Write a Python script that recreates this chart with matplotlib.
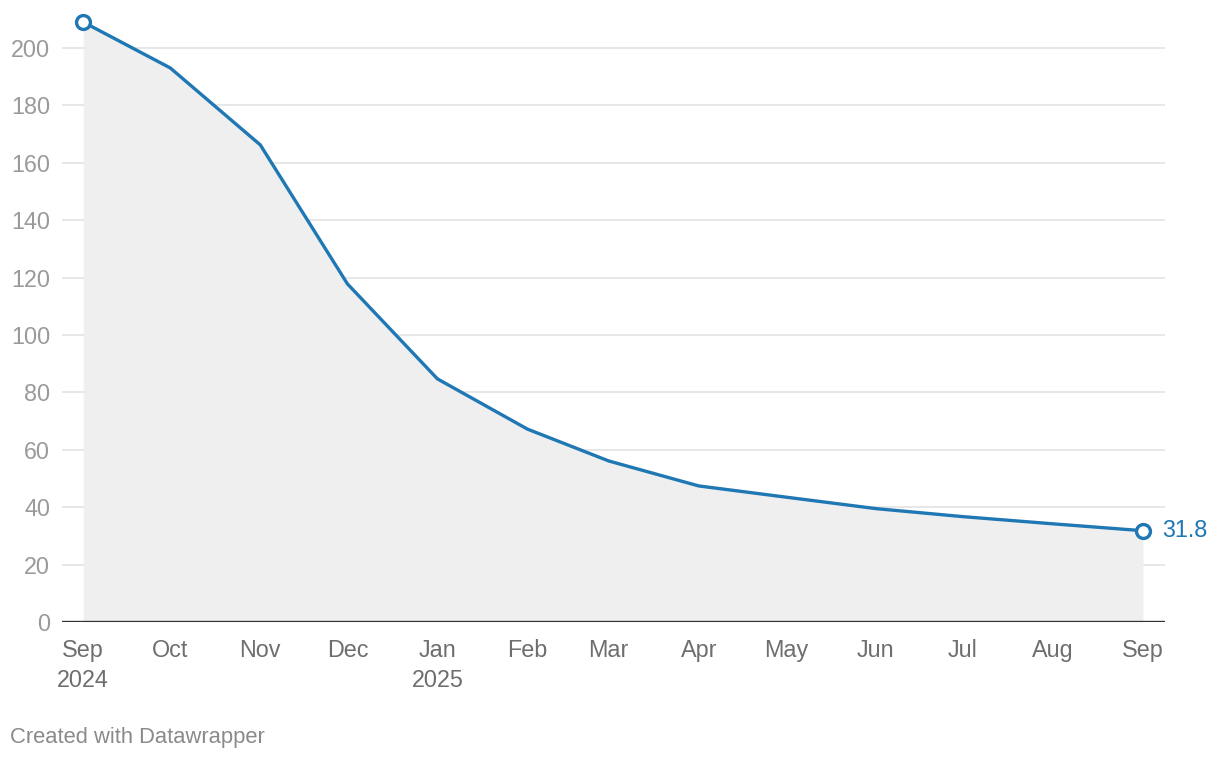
import matplotlib
matplotlib.use("Agg")
import matplotlib.pyplot as plt
import matplotlib.dates as mdates
from datetime import date

plt.rcParams['font.family'] = ['Liberation Sans', 'DejaVu Sans']

# monthly values, Sep 2024 .. Sep 2025
months = [date(2024, 9, 1), date(2024, 10, 1), date(2024, 11, 1), date(2024, 12, 1),
          date(2025, 1, 1), date(2025, 2, 1), date(2025, 3, 1), date(2025, 4, 1),
          date(2025, 5, 1), date(2025, 6, 1), date(2025, 7, 1), date(2025, 8, 1),
          date(2025, 9, 1)]
values = [209.0, 193.0, 166.2, 117.8, 84.7, 67.2, 56.1, 47.4, 43.5, 39.5, 36.7, 34.2, 31.8]
tick_labels = ["Sep\n2024", "Oct", "Nov", "Dec", "Jan\n2025", "Feb", "Mar", "Apr",
               "May", "Jun", "Jul", "Aug", "Sep"]
y_ticks = [0, 20, 40, 60, 80, 100, 120, 140, 160, 180, 200]

blue = "#1f77b4"

fig = plt.figure(figsize=(12.2, 7.6), dpi=100)
ax = fig.add_axes([62 / 1220, 138 / 760, (1165 - 62) / 1220, (622 - 14) / 760])

x = mdates.date2num(months)
ax.fill_between(x, 0, values, color="#efefef", lw=0, zorder=1)
ax.plot(x, values, color=blue, lw=2.4, zorder=3, solid_joinstyle="round")
for i in (0, -1):
    ax.plot(x[i], values[i], "o", ms=10, mfc="white", mec=blue, mew=2.4,
            zorder=4, clip_on=False)
ax.text(x[-1] + 6.5, values[-1], f"{values[-1]}", color=blue, fontsize=16.8,
        va="center", ha="left")

ax.set_xlim(x[0] - 7.3, x[-1] + 7.6)
ax.set_ylim(0, 211.8)

ax.set_yticks(y_ticks)
ax.set_yticklabels([str(v) for v in y_ticks])
for v in y_ticks[1:]:
    ax.axhline(v, color="#e3e3e3", lw=1.2, zorder=0)
ax.axhline(0, color="#333333", lw=1.7, zorder=5)

ax.set_xticks(x)
ax.set_xticklabels(tick_labels, linespacing=1.4)

ax.tick_params(axis="y", length=0, pad=8.6, labelsize=16.8, labelcolor="#9a9a9a")
ax.tick_params(axis="x", length=0, pad=12, labelsize=16.8, labelcolor="#6e6e6e")
for s in ax.spines.values():
    s.set_visible(False)

fig.text(10 / 1220, 1 - 737 / 760, "Created with Datawrapper", fontsize=15.8,
         color="#8a8a8a", va="center", ha="left")

fig.savefig("out.png", dpi=100, facecolor="white")
